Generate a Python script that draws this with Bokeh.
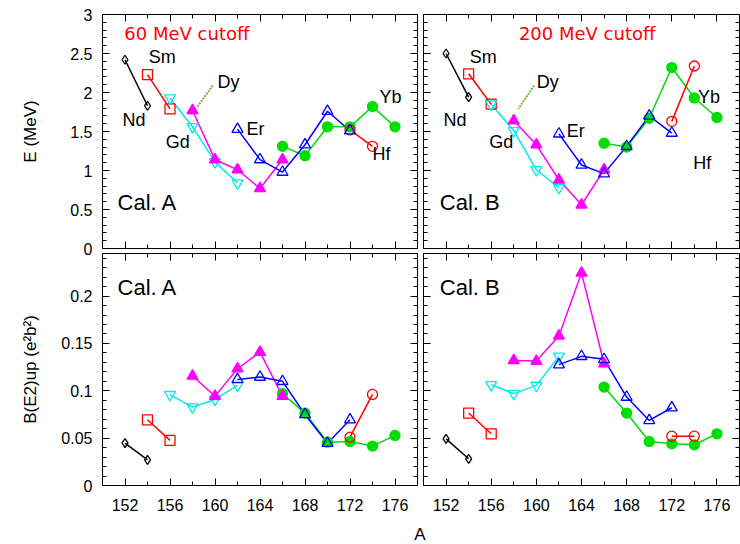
from bokeh.plotting import figure
from bokeh.models import (LinearAxis, FixedTicker, Range1d, Label, Div,
                          CustomJSTickFormatter)
from bokeh.layouts import column, row
from bokeh.embed import file_html
from bokeh.resources import INLINE

# ---------------- data ----------------
A_Nd = [152, 154]
A_Sm = [154, 156]
A_Gd = [156, 158, 160, 162]
A_Dy = [158, 160, 162, 164, 166]
A_Er = [162, 164, 166, 168, 170, 172]
A_Yb = [166, 168, 170, 172, 174, 176]
A_Hf = [172, 174]

# E (MeV), Cal. A (60 MeV cutoff)
E_A_Nd = [2.42, 1.83]
E_A_Sm = [2.23, 1.79]
E_A_Gd = [1.93, 1.56, 1.11, 0.84]
E_A_Dy = [1.77, 1.14, 1.01, 0.77, 1.14]
E_A_Er = [1.53, 1.14, 0.98, 1.33, 1.76, 1.51]
E_A_Yb = [1.31, 1.19, 1.56, 1.56, 1.82, 1.56]
E_A_Hf = [1.52, 1.31]

# E (MeV), Cal. B (200 MeV cutoff)
E_B_Nd = [2.50, 1.94]
E_B_Sm = [2.24, 1.85]
E_B_Gd = [1.85, 1.51, 1.01, 0.78]
E_B_Dy = [1.64, 1.33, 0.88, 0.56, 1.01]
E_B_Er = [1.47, 1.07, 0.96, 1.31, 1.70, 1.48]
E_B_Yb = [1.35, 1.30, 1.67, 2.32, 1.93, 1.68]
E_B_Hf = [1.63, 2.34]

# B(E2)up (e^2 b^2), Cal. A
B_A_Nd = [0.0447, 0.0271]
B_A_Sm = [0.0694, 0.0476]
B_A_Gd = [0.0959, 0.0828, 0.0909, 0.1057]
B_A_Dy = [0.1156, 0.0944, 0.1233, 0.1409, 0.0944]
B_A_Er = [0.1120, 0.1145, 0.1100, 0.0750, 0.0447, 0.0694]
B_A_Yb = [0.0970, 0.0765, 0.0458, 0.0465, 0.0416, 0.0529]
B_A_Hf = [0.0510, 0.0962]

# B(E2)up (e^2 b^2), Cal. B
B_B_Nd = [0.0493, 0.0282]
B_B_Sm = [0.0765, 0.0546]
B_B_Gd = [0.1064, 0.0970, 0.1057, 0.1364]
B_B_Dy = [0.1321, 0.1314, 0.1580, 0.2245, 0.1286]
B_B_Er = [0.1276, 0.1364, 0.1332, 0.0934, 0.0687, 0.0821]
B_B_Yb = [0.1039, 0.0765, 0.0465, 0.0440, 0.0430, 0.0546]
B_B_Hf = [0.0521, 0.0521]

x_major = [152, 156, 160, 164, 168, 172, 176]
x_minor = [150, 152, 154, 156, 158, 160, 162, 164, 166, 168, 170, 172, 174, 176, 178]
E_major = [0, 0.5, 1, 1.5, 2, 2.5, 3]
E_minor = [i / 10 for i in range(0, 31)]
B_major = [0, 0.05, 0.1, 0.15, 0.2]
B_minor = [i / 100 for i in range(0, 25)]

names = ["Nd", "Sm", "Yb", "Hf", "Gd", "Dy", "Er"]
A_of = dict(Nd=A_Nd, Sm=A_Sm, Gd=A_Gd, Dy=A_Dy, Er=A_Er, Yb=A_Yb, Hf=A_Hf)
E_A = dict(Nd=E_A_Nd, Sm=E_A_Sm, Gd=E_A_Gd, Dy=E_A_Dy, Er=E_A_Er, Yb=E_A_Yb, Hf=E_A_Hf)
E_B = dict(Nd=E_B_Nd, Sm=E_B_Sm, Gd=E_B_Gd, Dy=E_B_Dy, Er=E_B_Er, Yb=E_B_Yb, Hf=E_B_Hf)
B_A = dict(Nd=B_A_Nd, Sm=B_A_Sm, Gd=B_A_Gd, Dy=B_A_Dy, Er=B_A_Er, Yb=B_A_Yb, Hf=B_A_Hf)
B_B = dict(Nd=B_B_Nd, Sm=B_B_Sm, Gd=B_B_Gd, Dy=B_B_Dy, Er=B_B_Er, Yb=B_B_Yb, Hf=B_B_Hf)

# annotation anchors (data coords)
lab_A = dict(Sm=(155.3, 2.45), Nd=(152.8, 1.65), Gd=(156.7, 1.36), Dy=(161.2, 2.13),
             Er=(163.6, 1.53), Yb=(175.6, 1.94), Hf=(174.8, 1.21))
lab_B = dict(Sm=(155.3, 2.45), Nd=(152.8, 1.65), Gd=(156.9, 1.36), Dy=(161.0, 2.14),
             Er=(163.5, 1.51), Yb=(175.3, 1.94), Hf=(174.7, 1.10))
arrow_A = (159.8, 2.09, 158.4, 1.81)
arrow_B = (159.8, 2.09, 158.4, 1.79)

# ---------------- styles ----------------
STY = {
    "Nd": dict(marker="diamond", color="black", fill=False, size=9),
    "Sm": dict(marker="square", color="#ff0000", fill=False, size=10),
    "Gd": dict(marker="inverted_triangle", color="#00e8f0", fill=False, size=11),
    "Dy": dict(marker="triangle", color="#ff00ff", fill=True, size=11),
    "Er": dict(marker="triangle", color="#0000ff", fill=False, size=11),
    "Yb": dict(marker="circle", color="#00dd00", fill=True, size=10),
    "Hf": dict(marker="circle", color="#ff0000", fill=False, size=10),
}
FONT = "Liberation Sans"


def style_axis(ax, labels=True):
    ax.axis_line_color = None
    ax.major_tick_in = 7
    ax.major_tick_out = 0
    ax.minor_tick_in = 4
    ax.minor_tick_out = 0
    ax.major_tick_line_color = "black"
    ax.minor_tick_line_color = "black"
    if labels:
        ax.major_label_text_font = FONT
        ax.major_label_text_font_size = "16px"
        ax.major_label_text_color = "black"
    else:
        ax.formatter = CustomJSTickFormatter(code="return ''")
        ax.major_label_text_font_size = "0px"
        ax.major_label_standoff = 0


def make_panel(ydata, yr, ymaj, ymin, left_labels, bottom_labels, borders,
               frame_w, frame_h, margin=(0, 0, 0, 0), border_fill="white"):
    p = figure(frame_width=frame_w, frame_height=frame_h,
               x_range=Range1d(150, 178), y_range=Range1d(*yr),
               output_backend="svg", toolbar_location=None, margin=margin,
               min_border_left=borders[0], min_border_right=borders[1],
               min_border_top=borders[2], min_border_bottom=borders[3])
    p.grid.visible = False
    p.outline_line_color = "black"
    p.outline_line_width = 1
    p.background_fill_color = "white"
    p.border_fill_color = border_fill
    xt = FixedTicker(ticks=x_major, minor_ticks=x_minor)
    yt = FixedTicker(ticks=ymaj, minor_ticks=ymin)
    p.xaxis.ticker = xt
    p.yaxis.ticker = yt
    style_axis(p.xaxis[0], bottom_labels)
    style_axis(p.yaxis[0], left_labels)
    if bottom_labels:
        p.xaxis.major_label_standoff = 13
    if left_labels:
        p.yaxis.major_label_standoff = 10
    top = LinearAxis(ticker=FixedTicker(ticks=x_major, minor_ticks=x_minor))
    right = LinearAxis(ticker=FixedTicker(ticks=ymaj, minor_ticks=ymin))
    style_axis(top, False)
    style_axis(right, False)
    p.add_layout(top, "above")
    p.add_layout(right, "right")
    for n in names:
        s = STY[n]
        p.line(A_of[n], ydata[n], line_color=s["color"], line_width=1.5)
    for n in names:
        s = STY[n]
        p.scatter(A_of[n], ydata[n], marker=s["marker"], size=s["size"],
                  line_color=s["color"], line_width=1.3,
                  fill_color=s["color"] if s["fill"] else None)
    return p


def add_labels(p, labs, arrow):
    for n, (x, y) in labs.items():
        p.add_layout(Label(x=x, y=y, text=n, text_align="center", text_baseline="middle",
                           text_font=FONT, text_font_size="18px", text_color="black"))
    x0, y0, x1, y1 = arrow
    p.segment(x0=[x0], y0=[y0], x1=[x1], y1=[y1], line_color="#88aa44",
              line_width=2, line_dash="2 1")


def add_text(p, x, y, t, size, color="black", font=FONT):
    p.add_layout(Label(x=x, y=y, text=t, text_align="center", text_baseline="middle",
                       text_font=font, text_font_size=size, text_color=color))


FW_L, FW_R = 315, 316
tl = make_panel(E_A, (0, 3), E_major, E_minor, True, False, (102, 3, 14, 10), FW_L, 234)
tr = make_panel(E_B, (0, 3), E_major, E_minor, False, False, (3, 1, 14, 10), FW_R, 234)
bl = make_panel(B_A, (0, 0.245), B_major, B_minor, True, True, (102, 3, 0, 41), FW_L, 232,
                margin=(-5, 0, 0, 0), border_fill=None)
br = make_panel(B_B, (0, 0.245), B_major, B_minor, False, True, (3, 1, 0, 41), FW_R, 232,
                margin=(-5, 0, 0, 0), border_fill=None)

add_labels(tl, lab_A, arrow_A)
add_labels(tr, lab_B, arrow_B)
add_text(tl, 157.5, 2.76, "60 MeV cutoff", "18px", "#ff0000", "DejaVu Sans")
add_text(tr, 164.5, 2.76, "200 MeV cutoff", "18px", "#ff0000", "DejaVu Sans")
add_text(tl, 154.0, 0.59, "Cal. A", "22px")
add_text(tr, 154.1, 0.59, "Cal. B", "22px")
add_text(bl, 154.0, 0.209, "Cal. A", "22px")
add_text(br, 154.1, 0.209, "Cal. B", "22px")

tl.yaxis[0].axis_label = "E (MeV)"
bl.yaxis[0].axis_label = "B(E2)up (e\u00b2b\u00b2)"
for p, st in ((tl, 27), (bl, 18)):
    ax = p.yaxis[0]
    ax.axis_label_text_font = FONT
    ax.axis_label_text_font_size = "17px"
    ax.axis_label_text_font_style = "normal"
    ax.axis_label_text_color = "black"
    ax.axis_label_standoff = st

xlab = Div(text="A", width=40, height=18, margin=(0, 0, 0, 400),
           styles={"font-family": FONT, "font-size": "17px", "text-align": "center",
                   "line-height": "18px", "color": "black"})

layout = column(row(tl, tr, spacing=0), row(bl, br, spacing=0), xlab, spacing=0)

open("out.html", "w").write(file_html(layout, INLINE))
